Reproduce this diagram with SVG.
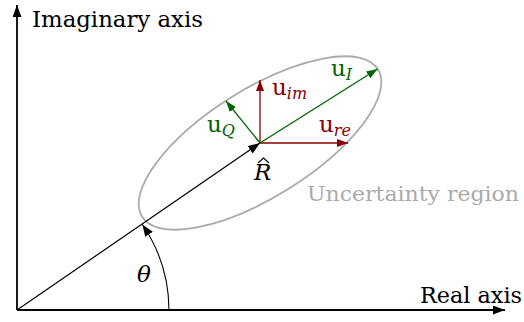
<svg xmlns="http://www.w3.org/2000/svg" width="524" height="322" viewBox="0 0 524 322">
<style>
text{font-family:'DejaVu Serif','Liberation Serif',serif;font-size:23px}
.k{fill:#000}
.red{fill:#8b0000}
.grn{fill:#006400}
.gray{fill:#aaaaaa}
.sub{font-size:16px;font-style:italic}
.it{font-style:italic}
</style>
<defs>
<marker id="ak" markerUnits="userSpaceOnUse" markerWidth="13" markerHeight="10" refX="12" refY="4.5" orient="auto"><path d="M0,0 L12,4.5 L0,9 Z" fill="#000"/></marker>
<marker id="ar" markerUnits="userSpaceOnUse" markerWidth="12" markerHeight="10" refX="11" refY="4" orient="auto"><path d="M0,0 L11,4 L0,8 Z" fill="#8b0000"/></marker>
<marker id="ag" markerUnits="userSpaceOnUse" markerWidth="12" markerHeight="10" refX="11" refY="4" orient="auto"><path d="M0,0 L11,4 L0,8 Z" fill="#006400"/></marker>
</defs>
<g id="uncertainty">
<ellipse cx="260" cy="143" rx="139" ry="54" transform="rotate(-32 260 143)" fill="none" stroke="#aaaaaa" stroke-width="1.8"/>
<text class="gray" style="font-size:20px" x="307" y="201" textLength="212" lengthAdjust="spacingAndGlyphs">Uncertainty region</text>
</g>
<g id="connectors" fill="none">
<line x1="17" y1="310" x2="17" y2="5" stroke="#000" stroke-width="1.8" marker-end="url(#ak)"/>
<line x1="17" y1="310" x2="505" y2="310" stroke="#000" stroke-width="1.8" marker-end="url(#ak)"/>
<line x1="17" y1="310" x2="260" y2="143" stroke="#000" stroke-width="1.2" marker-end="url(#ak)"/>
<path d="M169,310 A152,152 0 0 0 142.3,224.5" stroke="#000" stroke-width="1.1" marker-end="url(#ak)"/>
<line x1="260" y1="143" x2="348" y2="143" stroke="#8b0000" stroke-width="1.3" marker-end="url(#ar)"/>
<line x1="260" y1="143" x2="260" y2="80" stroke="#8b0000" stroke-width="1.3" marker-end="url(#ar)"/>
<line x1="260" y1="143" x2="377.5" y2="69" stroke="#006400" stroke-width="1.3" marker-end="url(#ag)"/>
<line x1="260" y1="143" x2="226" y2="101" stroke="#006400" stroke-width="1.3" marker-end="url(#ag)"/>
</g>
<g id="imag-axis"><text class="k" x="32" y="27" textLength="171" lengthAdjust="spacingAndGlyphs">Imaginary axis</text></g>
<g id="real-axis"><text class="k" x="420" y="303" textLength="102" lengthAdjust="spacingAndGlyphs">Real axis</text></g>
<g id="u-I"><text class="grn" x="331" y="76">u<tspan class="sub" dy="4">I</tspan></text></g>
<g id="u-im"><text class="red" x="272" y="95">u<tspan class="sub" dy="4">im</tspan></text></g>
<g id="u-Q"><text class="grn" x="207" y="132">u<tspan class="sub" dy="4">Q</tspan></text></g>
<g id="u-re"><text class="red" x="319" y="132">u<tspan class="sub" dy="4">re</tspan></text></g>
<g id="R-hat"><text class="k it" x="254" y="180">R</text><path d="M258,163 L263.5,158 L269,163" fill="none" stroke="#000" stroke-width="1.1"/></g>
<g id="theta"><text class="k it" x="137" y="282">θ</text></g>
</svg>
